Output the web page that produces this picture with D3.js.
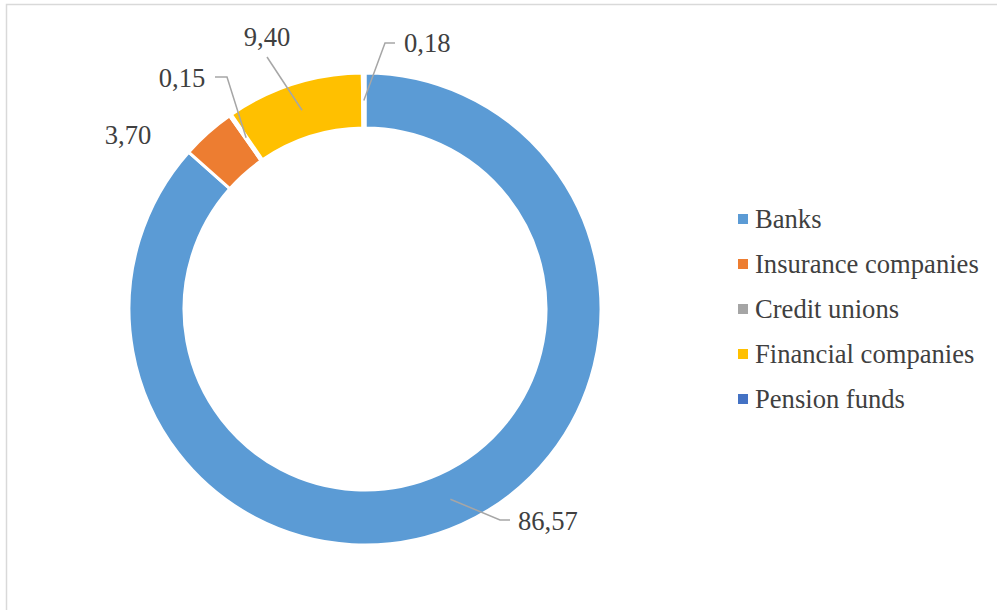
<!DOCTYPE html>
<html>
<head>
<meta charset="utf-8">
<script src="https://cdn.jsdelivr.net/npm/d3@7"></script>
<style>
  body { margin: 0; background: #fff; }
</style>
</head>
<body>
<div id="chart"></div>
<script>
// chart data (shares in %)
const categories = ["Banks", "Insurance companies", "Credit unions", "Financial companies", "Pension funds"];
const values = [86.57, 3.70, 0.15, 9.40, 0.18];
const labels = ["86,57", "3,70", "0,15", "9,40", "0,18"];
const colors = ["#5B9BD5", "#ED7D31", "#A5A5A5", "#FFC000", "#4472C4"];

const width = 997, height = 610;
const cx = 365, cy = 309;
const outerR = 236, innerR = 181;
const fontFamily = "'Liberation Serif', 'Times New Roman', Tinos, 'DejaVu Serif', serif";
const fontSize = 26.6;

// label layout: text anchor point + leader line elbow (relative to center), null = no leader
const labelLayout = [
  { x: 153, y: 221, anchor: "start", elbow: [[135, 211], [145, 211]] },
  { x: -237, y: -165, anchor: "middle", elbow: null },
  { x: -183, y: -222, anchor: "middle", elbow: [[-138, -232], [-150, -232]] },
  { x: -98, y: -263, anchor: "middle", elbow: [[-98, -252]] },
  { x: 39, y: -257, anchor: "start", elbow: [[20, -266], [30, -266]] }
];

const svg = d3.select("#chart").append("svg")
  .attr("width", width)
  .attr("height", height);

// chart frame (only top and left edge visible)
svg.append("rect")
  .attr("x", 6.5).attr("y", 4.5)
  .attr("width", 1100).attr("height", 800)
  .attr("fill", "none")
  .attr("stroke", "#d9d9d9")
  .attr("stroke-width", 1.5);

const g = svg.append("g").attr("transform", `translate(${cx},${cy})`);

const pie = d3.pie().sort(null).value((d) => d)(values);
const arc = d3.arc().innerRadius(innerR).outerRadius(outerR);

g.selectAll("path.slice")
  .data(pie)
  .enter()
  .append("path")
  .attr("class", "slice")
  .attr("d", arc)
  .attr("fill", (d, i) => colors[i])
  .attr("stroke", "#fff")
  .attr("stroke-width", 3);

// leader lines from slice centroid
pie.forEach((d, i) => {
  const lay = labelLayout[i];
  if (!lay.elbow) return;
  const pts = [arc.centroid(d)].concat(lay.elbow);
  g.append("path")
    .attr("d", d3.line()(pts))
    .attr("fill", "none")
    .attr("stroke", "#a6a6a6")
    .attr("stroke-width", 1.5);
});

// data labels
g.selectAll("text.label")
  .data(labels)
  .enter()
  .append("text")
  .attr("class", "label")
  .attr("x", (d, i) => labelLayout[i].x)
  .attr("y", (d, i) => labelLayout[i].y)
  .attr("text-anchor", (d, i) => labelLayout[i].anchor)
  .attr("font-family", fontFamily)
  .attr("font-size", fontSize)
  .attr("fill", "#404040")
  .text((d) => d);

// legend
const legend = svg.append("g").attr("transform", "translate(738,219)");
const rows = legend.selectAll("g")
  .data(categories)
  .enter()
  .append("g")
  .attr("transform", (d, i) => `translate(0,${i * 45})`);

rows.append("rect")
  .attr("x", 0).attr("y", -5)
  .attr("width", 10).attr("height", 10)
  .attr("fill", (d, i) => colors[i]);

rows.append("text")
  .attr("x", 17)
  .attr("y", 9)
  .attr("font-family", fontFamily)
  .attr("font-size", fontSize)
  .attr("fill", "#404040")
  .text((d) => d);
</script>
</body>
</html>
